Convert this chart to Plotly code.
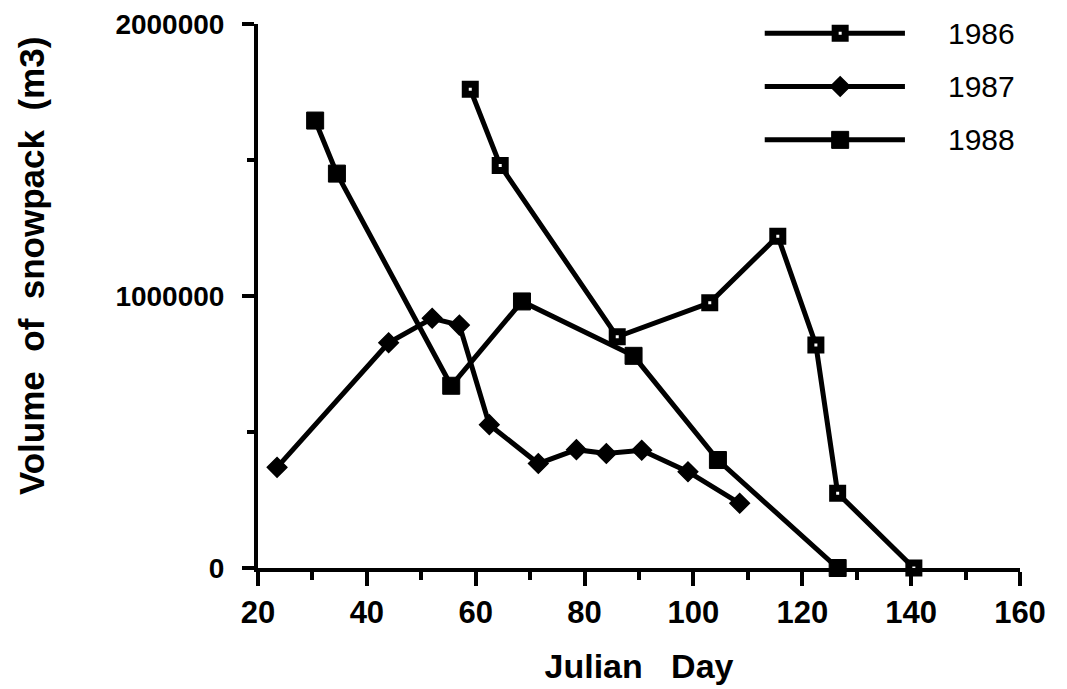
import plotly.graph_objects as go

# ---- data ----
day_1986 = [59, 64.5, 86, 103, 115.5, 122.5, 126.5, 140.5]
vol_1986 = [1760000, 1480000, 850000, 975000, 1220000, 820000, 275000, 0]

day_1987 = [23.5, 44, 52, 57, 62.5, 71.5, 78.5, 84, 90.5, 99, 108.5]
vol_1987 = [370000, 828000, 918000, 893000, 527000, 384000, 435000, 421000, 433000, 354000, 238000]

day_1988 = [30.5, 34.5, 55.5, 68.5, 89, 104.5, 126.5]
vol_1988 = [1645000, 1450000, 670000, 980000, 780000, 397000, 0]

series_names = ["1986", "1987", "1988"]
x_ticks = [20, 40, 60, 80, 100, 120, 140, 160]
y_ticks = [0, 1000000, 2000000]
y_ticktext = ["0", "1000000", "2000000"]

# ---- styles ----
LW = 5
styles = {
    "1986": dict(symbol="square", size=10, color="white", line=dict(color="black", width=7)),
    "1987": dict(symbol="diamond", size=15, color="black", line=dict(color="black", width=1.5)),
    "1988": dict(symbol="square", size=17, color="black", line=dict(color="black", width=1)),
}

fig = go.Figure()
for name, xs, ys in [("1986", day_1986, vol_1986), ("1987", day_1987, vol_1987), ("1988", day_1988, vol_1988)]:
    fig.add_trace(go.Scatter(x=xs, y=ys, mode="lines+markers", name=name,
                             line=dict(color="black", width=LW),
                             marker=styles[name], showlegend=False,
                             cliponaxis=False))

# ---- custom legend drawn on an overlay axis in plot-fraction units ----
leg_x0, leg_x1, leg_xm, leg_xt = 0.665, 0.849, 0.764, 0.903
leg_rows = [0.983, 0.885, 0.787]
for name, yr in zip(series_names, leg_rows):
    fig.add_trace(go.Scatter(x=[leg_x0, leg_xm, leg_x1], y=[yr, yr, yr], xaxis="x2", yaxis="y2",
                             mode="lines", line=dict(color="black", width=LW),
                             showlegend=False, hoverinfo="skip", cliponaxis=False))
    fig.add_trace(go.Scatter(x=[leg_xm], y=[yr], xaxis="x2", yaxis="y2",
                             mode="markers", marker=styles[name],
                             showlegend=False, hoverinfo="skip", cliponaxis=False))
    fig.add_annotation(x=leg_xt, y=yr, xref="x2", yref="y2", text=name, showarrow=False,
                       xanchor="left", yanchor="middle",
                       font=dict(family="Liberation Sans", size=30, color="black"))

tick_font_x = dict(family="Liberation Sans", size=31, color="black", weight="bold")
tick_font_y = dict(family="Liberation Sans", size=28, color="black", weight="bold")
title_font = dict(family="Liberation Sans", size=34, color="black", weight="bold")
NB = "\u00a0"

# y-axis title as a rotated annotation
fig.add_annotation(text="Volume" + NB * 2 + "of" + NB * 2 + "snowpack" + NB * 2 + "(m3)",
                   xref="paper", yref="paper", x=-0.298, y=0.555, textangle=-90,
                   xanchor="center", yanchor="middle", showarrow=False,
                   font=dict(family="Liberation Sans", size=35, color="black", weight="bold"))

fig.update_layout(
    width=1067, height=689,
    margin=dict(l=250, r=55, t=16, b=129),
    paper_bgcolor="white", plot_bgcolor="white",
    showlegend=False,
    xaxis=dict(range=[20, 160], tickvals=x_ticks, showgrid=False, zeroline=False, automargin=False,
               showline=True, linecolor="black", linewidth=4,
               ticks="outside", ticklen=14, tickwidth=3.5, tickcolor="black",
               minor=dict(dtick=10, ticks="outside", ticklen=8, tickwidth=3.5, tickcolor="black"),
               tickfont=tick_font_x, ticklabelstandoff=0, ticklabeloverflow="allow",
               title=dict(text="Julian" + NB * 3 + "Day", font=title_font, standoff=26)),
    yaxis=dict(range=[0, 2000000], tickvals=y_ticks, ticktext=y_ticktext, showgrid=False, zeroline=False,
               automargin=False,
               showline=True, linecolor="black", linewidth=4,
               ticks="outside", ticklen=12, tickwidth=3.5, tickcolor="black",
               minor=dict(dtick=500000, ticks="outside", ticklen=7, tickwidth=3.5, tickcolor="black"),
               tickfont=tick_font_y, ticklabelstandoff=12, ticklabeloverflow="allow"),
    xaxis2=dict(overlaying="x", range=[0, 1], visible=False, fixedrange=True),
    yaxis2=dict(overlaying="y", range=[0, 1], visible=False, fixedrange=True),
)

fig.write_html("out.html")
